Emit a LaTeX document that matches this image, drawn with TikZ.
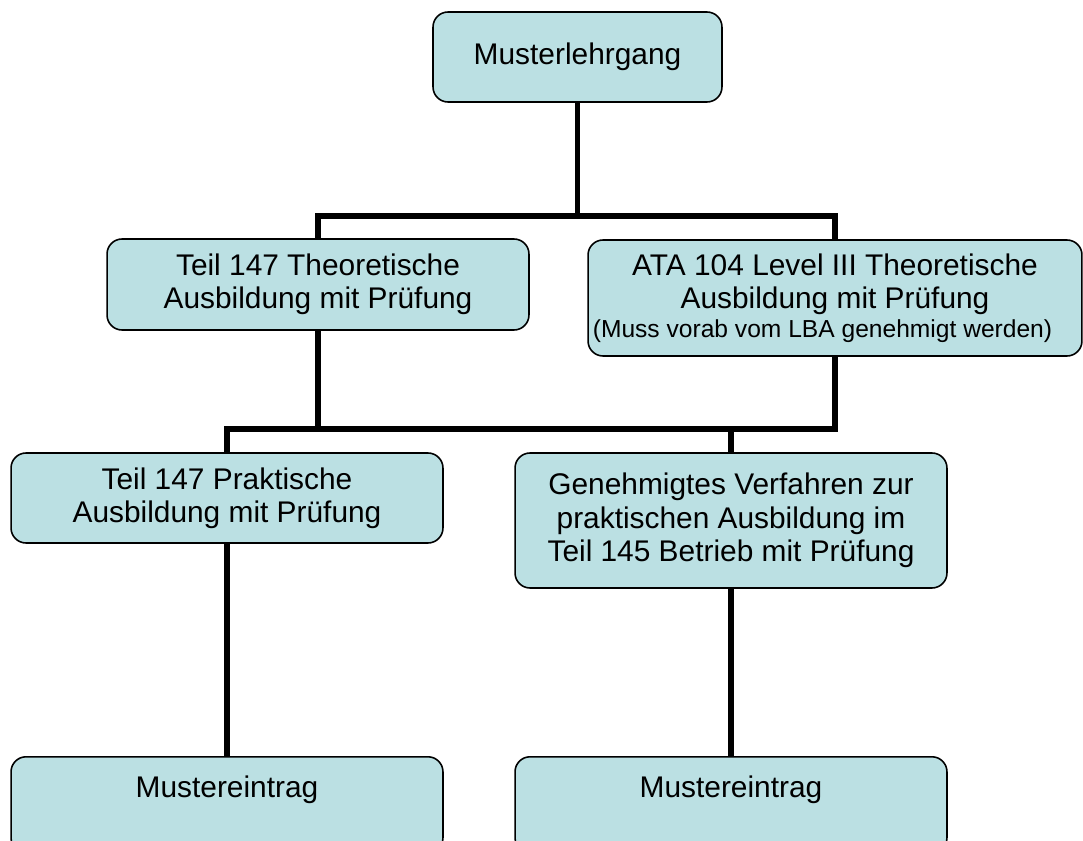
\documentclass[tikz,border=0pt]{standalone}
\usepackage{fontspec}
\setmainfont{Liberation Sans}
\definecolor{boxfill}{RGB}{187,224,227}
\begin{document}
\begin{tikzpicture}[x=0.02cm, y=-0.02cm,
  box/.style={draw=black, line width=0.9pt, fill=boxfill, rounded corners=0.3cm,
    align=center, inner sep=0pt, font=\fontsize{17}{19}\selectfont},
  endbox/.style={box, anchor=north, minimum width=8.64cm, inner ysep=0.37cm,
    text height=0.45cm, text depth=0.73cm},
  conn/.style={line width=2.9pt}]
\useasboundingbox (0,0) rectangle (1083,841);
\clip (0,0) rectangle (1083,841);
\node[box, minimum width=5.78cm, minimum height=1.8cm] (lehrgang) at (577.5,57) {Musterlehrgang};
\node[box, minimum width=8.44cm, minimum height=1.82cm] (theo) at (318,284.5) {Teil 147 Theoretische\\Ausbildung mit Prüfung};
\node[box, minimum width=9.88cm, minimum height=2.32cm] (ata) at (835,298) {ATA 104 Level III Theoretische\\Ausbildung mit Prüfung\\[-3pt]{\fontsize{14}{15}\selectfont (Muss vorab vom LBA genehmigt werden)\hspace*{0.5cm}}};
\node[box, minimum width=8.64cm, minimum height=1.8cm] (prakt) at (227,498) {Teil 147 Praktische\\Ausbildung mit Prüfung};
\node[box, minimum width=8.64cm, minimum height=2.7cm] (verf) at (731,520.5) {Genehmigtes Verfahren zur\\praktischen Ausbildung im\\Teil 145 Betrieb mit Prüfung};
\node[endbox] (eintragA) at (227,756) {Mustereintrag};
\node[endbox] (eintragB) at (731,756) {Mustereintrag};
\coordinate (fork1) at (577.5,216);
\coordinate (fork2) at (318,429);
\draw[conn] (lehrgang.south) -- (fork1) -| (theo.north);
\draw[conn] (fork1) -| (ata.north);
\draw[conn] (theo.south) -- (fork2);
\draw[conn] (ata.south) |- (fork2) -| (prakt.north);
\draw[conn] (verf.north) -- (verf.north |- fork2);
\draw[conn] (prakt.south) -- (eintragA.north);
\draw[conn] (verf.south) -- (eintragB.north);
\end{tikzpicture}
\end{document}
